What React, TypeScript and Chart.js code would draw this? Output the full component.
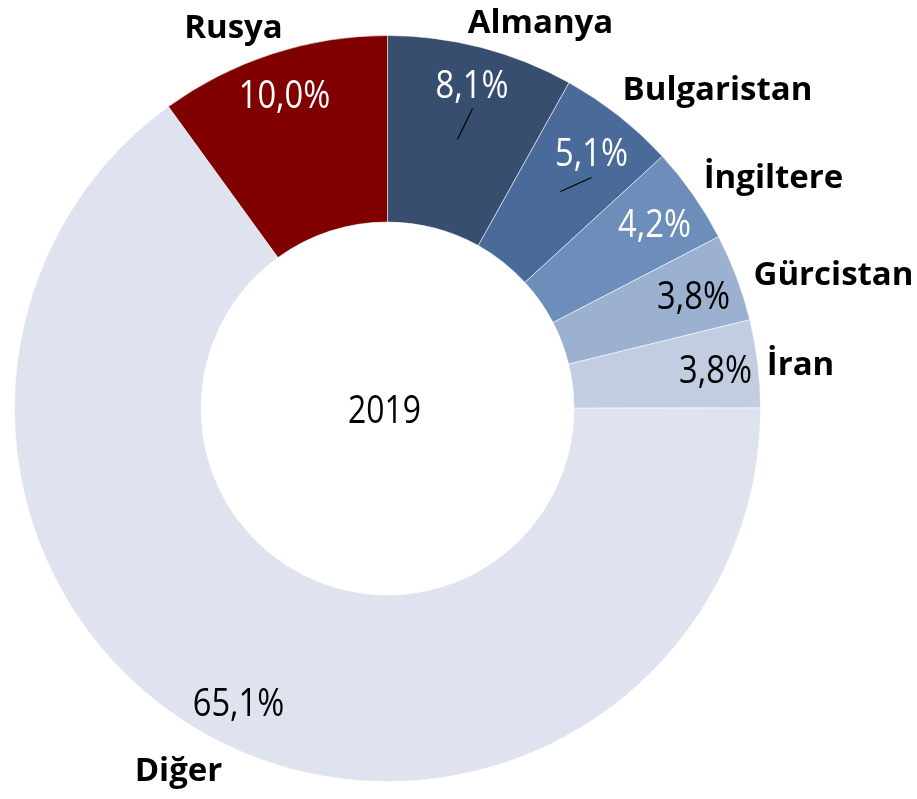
import React, { useEffect, useRef } from "react";
import { Chart, registerables } from "chart.js";

Chart.register(...registerables);

const countries = ["Almanya", "Bulgaristan", "İngiltere", "Gürcistan", "İran", "Diğer", "Rusya"];
const shares = [8.1, 5.1, 4.2, 3.8, 3.8, 65.1, 10.0];
const sliceColors = ["#374e6e", "#4a6a9a", "#6d8dbb", "#9cb0d0", "#c2cde2", "#dee3ef", "#800000"];
const valueTextColors = ["#ffffff", "#ffffff", "#ffffff", "#000000", "#000000", "#000000", "#ffffff"];
const centerTitle = "2019";

// label placement offsets relative to doughnut centre (style only)
const nameOffsets: [number, number][] = [
  [153, -376], [330, -309], [386, -221], [446, -124], [413, -34], [-209, 372], [-154, -371],
];
const valueOffsets: [number, number][] = [
  [84.5, -311], [204, -243], [267, -172], [306, -100], [328, -26], [-149, 307], [-103, -301],
];
const leaderLines: { idx: number; from: [number, number]; to: [number, number] }[] = [
  { idx: 0, from: [85, -300], to: [70, -269] },
  { idx: 1, from: [204, -231], to: [173, -217] },
];

const fmt = (v: number) => v.toFixed(1).replace(".", ",") + "%";

function drawScaledText(ctx: CanvasRenderingContext2D, text: string, x: number, y: number, sx: number) {
  ctx.save();
  ctx.translate(x, y);
  ctx.scale(sx, 1);
  ctx.fillText(text, 0, 0);
  ctx.restore();
}

const labelPlugin = {
  id: "labelPlugin",
  afterDraw(chart: any) {
    const ctx: CanvasRenderingContext2D = chart.ctx;
    const arc = chart.getDatasetMeta(0).data[0];
    const cx = arc.x;
    const cy = arc.y;
    ctx.save();
    ctx.textAlign = "center";
    ctx.textBaseline = "alphabetic";
    ctx.fillStyle = "#000000";
    ctx.font = "bold 33px 'Open Sans'";
    countries.forEach((c, i) => {
      const [dx, dy] = nameOffsets[i];
      ctx.fillText(c, cx + dx, cy + dy);
    });
    ctx.font = "38px 'Open Sans'";
    shares.forEach((v, i) => {
      const [dx, dy] = valueOffsets[i];
      ctx.fillStyle = valueTextColors[i];
      drawScaledText(ctx, fmt(v), cx + dx, cy + dy, 0.86);
    });
    ctx.fillStyle = "#000000";
    drawScaledText(ctx, centerTitle, cx - 3, cy + 14, 0.84);
    ctx.strokeStyle = "#000000";
    ctx.lineWidth = 1.2;
    leaderLines.forEach((l) => {
      ctx.beginPath();
      ctx.moveTo(cx + l.from[0], cy + l.from[1]);
      ctx.lineTo(cx + l.to[0], cy + l.to[1]);
      ctx.stroke();
    });
    ctx.restore();
  },
};

export default function App() {
  const ref = useRef<HTMLCanvasElement | null>(null);
  useEffect(() => {
    if (!ref.current) return;
    const chart = new Chart(ref.current, {
      type: "doughnut",
      data: {
        labels: countries,
        datasets: [
          {
            data: shares,
            backgroundColor: sliceColors,
            borderColor: "rgba(255,255,255,0.55)",
            borderWidth: 1,
          },
        ],
      },
      options: {
        responsive: false,
        animation: false,
        devicePixelRatio: 1,
        cutout: "50%",
        rotation: 0,
        layout: { padding: { left: 14, top: 35, right: 156, bottom: 17 } },
        plugins: {
          legend: { display: false },
          tooltip: { enabled: false },
        },
      },
      plugins: [labelPlugin],
    });
    return () => chart.destroy();
  }, []);
  return (
    <div style={{ position: "fixed", left: 0, top: 0, width: 917, height: 799, background: "#ffffff" }}>
      <canvas ref={ref} width={917} height={799} />
    </div>
  );
}
